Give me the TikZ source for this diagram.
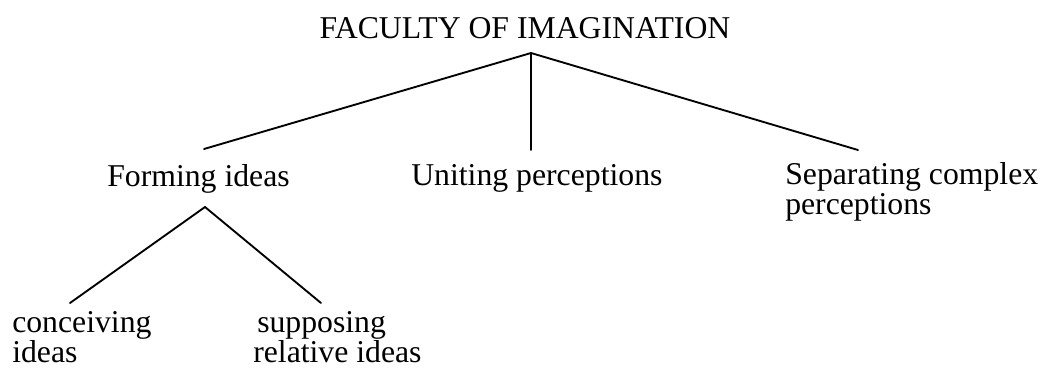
\documentclass[tikz,border=0pt]{standalone}
\usepackage{fontspec}
\setmainfont{Liberation Serif}
\usetikzlibrary{positioning}

\begin{document}
\begin{tikzpicture}[
    x=0.75pt, y=-0.75pt,
    label/.style={font=\fontsize{23.8}{22.5}\selectfont, inner sep=0pt,
                  align=left, anchor=base west},
    branch/.style={line width=1.4pt, line cap=round},
]
\useasboundingbox (0,0) rectangle (1041,369);

% Root
\node[label, anchor=base] (faculty) at (525,38) {FACULTY OF IMAGINATION};

% Second level (base = last line)
\node[label] (forming)    at (107,186) {Forming ideas};
\node[label] (uniting)    at (411,185) {Uniting perceptions};
\node[label] (separating) at (785,214) {Separating complex\\perceptions};

% Third level
\node[label] (conceiving) at (12,362)  {conceiving\\ideas};
\node[label] (supposing)  at (253,362) {\hspace*{3pt}supposing\\relative ideas};

% Branch points
\coordinate (apex)     at (531,53);
\coordinate (toForm)   at (204,149);
\coordinate (toUnit)   at (531,150);
\coordinate (toSep)    at (858,150);
\coordinate (fork)     at (205,207);
\coordinate (toConc)   at (70,303);
\coordinate (toSupp)   at (321,303);

% Branches
\draw[branch] (toForm) -- (apex) -- (toSep);
\draw[branch] (apex) -- (toUnit);
\draw[branch] (toConc) -- (fork) -- (toSupp);
\end{tikzpicture}
\end{document}
